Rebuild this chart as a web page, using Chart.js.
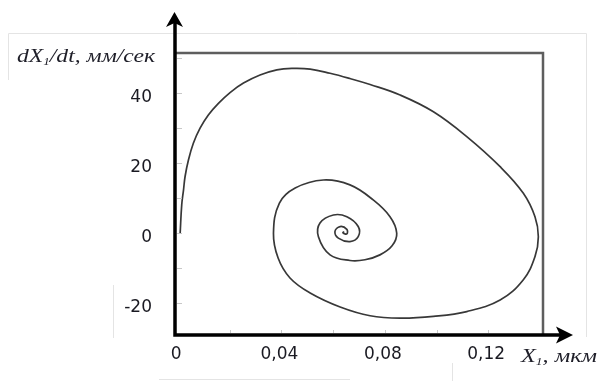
<!DOCTYPE html>
<html><head><meta charset="utf-8">
<script src="https://cdn.jsdelivr.net/npm/chart.js@4.4.1/dist/chart.umd.min.js"></script>
<style>html,body{margin:0;padding:0;background:#fff;}canvas{display:block;}</style>
</head><body>
<canvas id="c" width="600" height="381"></canvas>
<script>
// phase trajectory: displacement X1 (мкм) vs velocity dX1/dt (мм/сек)
const xValues = [0.0008,0.0014,0.0021,0.0027,0.0040,0.0059,0.0085,0.0117,0.0156,0.0201,0.0253,0.0317,0.0382,0.0446,0.0511,0.0588,0.0665,0.0743,0.0859,0.0988,0.1117,0.1246,0.1336,0.1381,0.1394,0.1381,0.1336,0.1246,0.1117,0.0988,0.0859,0.0743,0.0627,0.0511,0.0433,0.0387,0.0369,0.0392,0.0453,0.0562,0.0665,0.0755,0.0820,0.0846,0.0828,0.0781,0.0723,0.0665,0.0588,0.0543,0.0549,0.0601,0.0653,0.0697,0.0697,0.0665,0.0620,0.0607,0.0627,0.0653,0.0653,0.0638,0.0642];
const yValues = [0,8.1,12.4,16.2,20.9,25.7,30.0,33.8,37.1,40.2,42.9,45.2,46.7,47.1,46.9,45.7,44.2,42.5,39.5,34.7,27.6,19.0,11.4,4.7,-1.0,-6.7,-13.3,-19.1,-22.4,-23.8,-24.3,-23.6,-21.1,-17.1,-12.8,-7.1,0,8.6,12.9,15.2,13.8,9.5,4.7,0,-3.6,-6.2,-7.6,-7.8,-6.2,-1.0,2.9,5.2,4.7,1.9,-1.0,-2.4,-1.4,0.5,1.9,1.1,-0.2,0.1,0.5];
const xTickValues = [0, 0.04, 0.08, 0.12];
const xTickLabels = ['0', '0,04', '0,08', '0,12'];
const yTickValues = [-20, 0, 20, 40];
const yTickLabels = ['-20', '0', '20', '40'];
const xMinorTicks = [0.02, 0.04, 0.06, 0.08, 0.10, 0.12];
const yMinorTicks = [-20, -10, 0, 10, 20, 30, 40, 50];
const xTitle = [{t:'X'},{t:'1',sub:true},{t:', мкм'}];
const yTitle = [{t:'dX'},{t:'1',sub:true},{t:'/dt, мм/сек'}];

function drawTitle(ctx, parts, x, baseline, targetWidth) {
  const mainF = 'italic 18px "Liberation Serif"';
  const subF = 'italic 10px "Liberation Serif"';
  let total = 0;
  parts.forEach(p => { ctx.font = p.sub ? subF : mainF; p.w = ctx.measureText(p.t).width; total += p.w; });
  ctx.save();
  ctx.translate(x, baseline);
  ctx.scale(targetWidth / total, 1);
  ctx.fillStyle = '#1e1e28';
  ctx.textBaseline = 'alphabetic';
  ctx.textAlign = 'left';
  let cx = 0;
  parts.forEach(p => { ctx.font = p.sub ? subF : mainF; ctx.fillText(p.t, cx, p.sub ? 3 : 0); cx += p.w; });
  ctx.restore();
}

const deco = {
  id: 'deco',
  beforeDraw(chart) {
    const ctx = chart.ctx;
    ctx.save();
    ctx.strokeStyle = '#e4e4e4';
    ctx.lineWidth = 1;
    ctx.beginPath();
    ctx.moveTo(8.5, 80); ctx.lineTo(8.5, 33.5); ctx.lineTo(586.5, 33.5); ctx.lineTo(586.5, 337);
    ctx.moveTo(113.5, 285); ctx.lineTo(113.5, 338);
    ctx.moveTo(159, 379.5); ctx.lineTo(350, 379.5);
    ctx.moveTo(452.5, 363); ctx.lineTo(452.5, 381);
    ctx.stroke();
    ctx.restore();
  },
  afterDraw(chart) {
    const ctx = chart.ctx;
    const a = chart.chartArea;
    const xs = chart.scales.x, ys = chart.scales.y;
    ctx.save();
    ctx.strokeStyle = '#c8c8c8';
    ctx.lineWidth = 1;
    ctx.beginPath();
    yMinorTicks.forEach(v => { const p = Math.round(ys.getPixelForValue(v)) + 0.5; ctx.moveTo(a.left + 2, p); ctx.lineTo(a.left + 7, p); });
    xMinorTicks.forEach(v => { const p = Math.round(xs.getPixelForValue(v)) + 0.5; ctx.moveTo(p, a.bottom - 2); ctx.lineTo(p, a.bottom - 5); });
    ctx.stroke();
    ctx.strokeStyle = '#5e5e5e';
    ctx.lineWidth = 2.5;
    ctx.beginPath();
    ctx.moveTo(a.left, a.top); ctx.lineTo(a.right, a.top); ctx.lineTo(a.right, a.bottom);
    ctx.stroke();
    ctx.strokeStyle = '#000';
    ctx.fillStyle = '#000';
    ctx.lineWidth = 3.5;
    ctx.beginPath();
    ctx.moveTo(a.left, 22); ctx.lineTo(a.left, a.bottom); ctx.lineTo(560, a.bottom);
    ctx.stroke();
    ctx.beginPath();
    ctx.moveTo(a.left - 0.5, 12); ctx.lineTo(a.left + 8, 27); ctx.lineTo(a.left - 0.5, 23); ctx.lineTo(a.left - 9, 27); ctx.closePath();
    ctx.fill();
    ctx.beginPath();
    ctx.moveTo(573, a.bottom); ctx.lineTo(556, a.bottom - 8.5); ctx.lineTo(560, a.bottom); ctx.lineTo(556, a.bottom + 8.5); ctx.closePath();
    ctx.fill();
    ctx.restore();
    drawTitle(ctx, yTitle, 17, 62, 138);
    drawTitle(ctx, xTitle, 521, 362, 76);
  }
};

new Chart(document.getElementById('c'), {
  type: 'scatter',
  data: {
    datasets: [{
      data: xValues.map((x, i) => ({x: x, y: yValues[i]})),
      showLine: true,
      borderColor: '#383838',
      borderWidth: 1.7,
      pointRadius: 0,
      tension: 0.4,
      fill: false
    }]
  },
  options: {
    responsive: false,
    devicePixelRatio: 1,
    animation: false,
    events: [],
    layout: {padding: {top: 53, right: 57, left: 0, bottom: 0}},
    plugins: {legend: {display: false}, tooltip: {enabled: false}, title: {display: false}},
    scales: {
      x: {
        type: 'linear',
        min: -0.0012,
        max: 0.1412,
        afterBuildTicks: s => { s.ticks = xTickValues.map(v => ({value: v})); },
        afterFit: s => { s.height = 46; },
        grid: {display: false, drawTicks: false},
        border: {display: false},
        ticks: {
          padding: 9,
          labelOffset: -2,
          maxRotation: 0,
          autoSkip: false,
          color: '#1a1a22',
          font: {family: '"DejaVu Sans"', size: 17},
          callback: v => xTickLabels[xTickValues.indexOf(v)]
        }
      },
      y: {
        type: 'linear',
        min: -29.1,
        max: 51.5,
        afterBuildTicks: s => { s.ticks = yTickValues.map(v => ({value: v})); },
        afterFit: s => { s.width = 175; },
        grid: {display: false, drawTicks: false},
        border: {display: false},
        ticks: {
          padding: 23,
          labelOffset: 4,
          autoSkip: false,
          color: '#1a1a22',
          font: {family: '"DejaVu Sans"', size: 17},
          callback: v => yTickLabels[yTickValues.indexOf(v)]
        }
      }
    }
  },
  plugins: [deco]
});
</script>
</body></html>
